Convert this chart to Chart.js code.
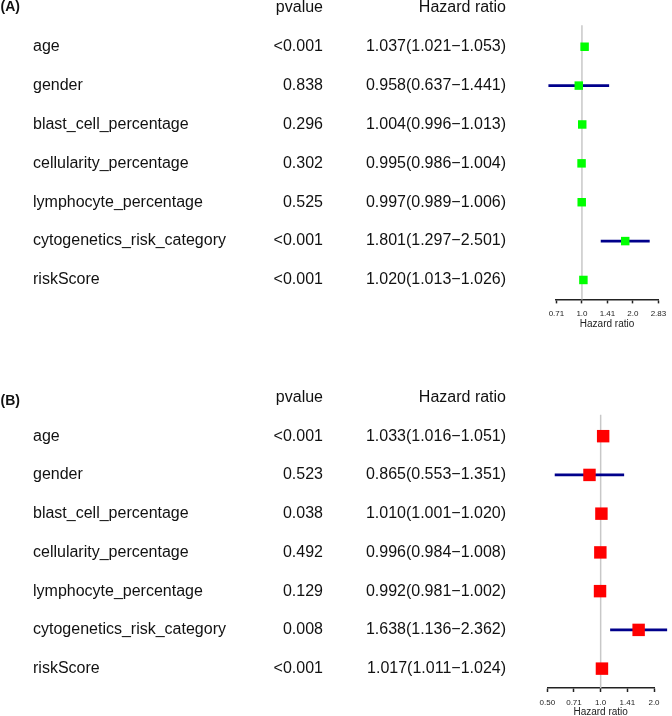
<!DOCTYPE html>
<html>
<head>
<meta charset="utf-8">
<title>Forest plots</title>
<script src="https://cdn.jsdelivr.net/npm/chart.js@4.4.1/dist/chart.umd.min.js"></script>
<style>
  html, body { margin: 0; padding: 0; background: #fff; overflow: hidden; }
  #wrap { position: relative; width: 672px; height: 716px; }
  canvas { position: absolute; left: 0; }
</style>
</head>
<body>
<div id="wrap">
  <canvas id="chartA" width="672" height="358" style="top:0px"></canvas>
  <canvas id="chartB" width="672" height="366" style="top:358px"></canvas>
</div>
<script>
// Variables (same order in both panels)
const variables = [
  'age',
  'gender',
  'blast_cell_percentage',
  'cellularity_percentage',
  'lymphocyte_percentage',
  'cytogenetics_risk_category',
  'riskScore'
];

// Panel A
const pvalueA = ['<0.001', '0.838', '0.296', '0.302', '0.525', '<0.001', '<0.001'];
const hrA   = [1.037, 0.958, 1.004, 0.995, 0.997, 1.801, 1.020];
const lowA  = [1.021, 0.637, 0.996, 0.986, 0.989, 1.297, 1.013];
const highA = [1.053, 1.441, 1.013, 1.004, 1.006, 2.501, 1.026];
const ticksA = [0.7071, 1, 1.4142, 2, 2.8284];
const tickLabelsA = ['0.71', '1.0', '1.41', '2.0', '2.83'];

// Panel B
const pvalueB = ['<0.001', '0.523', '0.038', '0.492', '0.129', '0.008', '<0.001'];
const hrB   = [1.033, 0.865, 1.010, 0.996, 0.992, 1.638, 1.017];
const lowB  = [1.016, 0.553, 1.001, 0.984, 0.981, 1.136, 1.011];
const highB = [1.051, 1.351, 1.020, 1.008, 1.002, 2.362, 1.024];
const ticksB = [0.5, 0.7071, 1, 1.4142, 2];
const tickLabelsB = ['0.50', '0.71', '1.0', '1.41', '2.0'];

const FONT = '"Liberation Sans", Arial, Helvetica, sans-serif';
Chart.defaults.font.family = FONT;

function hrLabel(hr, lo, hi) {
  return `${hr.toFixed(3)}(${lo.toFixed(3)}\u2212${hi.toFixed(3)})`;
}

// Plugin: reference line at HR = 1 plus the text table on the left
function tablePlugin(panel, panelY, pvalues, hrTexts) {
  return {
    id: 'forestTable',
    beforeDatasetsDraw(chart) {
      const { ctx, chartArea, scales } = chart;
      const x1 = scales.x.getPixelForValue(1);
      ctx.save();
      ctx.strokeStyle = '#c8c8c8';
      ctx.lineWidth = 1.5;
      ctx.beginPath();
      ctx.moveTo(x1, chartArea.top - 2);
      ctx.lineTo(x1, chartArea.bottom);
      ctx.stroke();
      ctx.restore();
    },
    afterDraw(chart) {
      const { ctx, scales } = chart;
      const y = scales.y;
      const step = y.getPixelForValue(1) - y.getPixelForValue(0);
      const headerY = y.getPixelForValue(0) - step;

      ctx.save();
      ctx.fillStyle = '#111';
      ctx.textBaseline = 'middle';

      // panel letter
      ctx.font = `bold 14px ${FONT}`;
      ctx.textAlign = 'left';
      ctx.fillText(panel, 0.5, panelY);

      ctx.font = `16px ${FONT}`;
      ctx.textAlign = 'right';
      ctx.fillText('pvalue', 323, headerY);
      ctx.fillText('Hazard ratio', 506, headerY);

      variables.forEach((name, i) => {
        const yy = y.getPixelForValue(i);
        ctx.textAlign = 'left';
        ctx.fillText(name, 33, yy);
        ctx.textAlign = 'right';
        ctx.fillText(pvalues[i], 323, yy);
        ctx.fillText(hrTexts[i], 506, yy);
      });
      ctx.restore();
    }
  };
}

function renderForest(canvasId, cfg) {
  const canvas = document.getElementById(canvasId);
  const hrTexts = cfg.hr.map((v, i) => hrLabel(v, cfg.low[i], cfg.high[i]));

  return new Chart(canvas, {
    type: 'scatter',
    data: {
      datasets: [
        {
          // hazard ratio squares
          type: 'scatter',
          order: 0,
          data: cfg.hr.map((v, i) => ({ x: v, y: variables[i] })),
          pointStyle: 'rect',
          pointRadius: cfg.pointRadius,
          pointBorderWidth: 0,
          backgroundColor: cfg.color,
          borderColor: cfg.color,
          clip: false
        },
        {
          // confidence intervals
          type: 'bar',
          order: 1,
          indexAxis: 'y',
          data: cfg.low.map((lo, i) => [lo, cfg.high[i]]),
          backgroundColor: '#00008B',
          borderWidth: 0,
          borderSkipped: false,
          barThickness: 2,
          grouped: false,
          clip: false
        }
      ]
    },
    options: {
      responsive: false,
      devicePixelRatio: 1,
      animation: false,
      events: [],
      layout: { padding: cfg.padding },
      plugins: {
        legend: { display: false },
        tooltip: { enabled: false },
        title: { display: false }
      },
      scales: {
        x: {
          type: 'logarithmic',
          position: 'bottom',
          min: cfg.ticks[0],
          max: cfg.ticks[cfg.ticks.length - 1],
          offset: false,
          beginAtZero: false,
          afterBuildTicks: scale => {
            scale.ticks = cfg.ticks.map(v => ({ value: v }));
          },
          afterFit: scale => {
            scale.height = cfg.axisHeight;
          },
          ticks: {
            autoSkip: false,
            maxRotation: 0,
            minRotation: 0,
            padding: cfg.tickPadding,
            color: '#222',
            font: { size: 8 },
            callback: (value, index) => cfg.tickLabels[index]
          },
          grid: {
            display: true,
            offset: false,
            drawOnChartArea: false,
            drawTicks: true,
            tickLength: 4,
            tickWidth: 1.5,
            tickColor: '#222'
          },
          border: { display: true, color: '#222', width: 1.5 },
          title: {
            display: true,
            text: 'Hazard ratio',
            color: '#222',
            font: { size: 10, lineHeight: 1.2 },
            padding: { top: 0, bottom: 0 }
          }
        },
        y: {
          type: 'category',
          labels: variables,
          offset: true,
          display: false
        }
      }
    },
    plugins: [tablePlugin(cfg.panel, cfg.panelY, cfg.pvalues, hrTexts)]
  });
}

renderForest('chartA', {
  panel: '(A)', panelY: 7,
  pvalues: pvalueA, hr: hrA, low: lowA, high: highA,
  ticks: ticksA, tickLabels: tickLabelsA,
  color: '#00ff00', pointRadius: 6,
  padding: { left: 555.7, right: 8.7, top: 27.3, bottom: 27.3 },
  axisHeight: 31.3, tickPadding: 5.8
});

renderForest('chartB', {
  panel: '(B)', panelY: 43,
  pvalues: pvalueB, hr: hrB, low: lowB, high: highB,
  ticks: ticksB, tickLabels: tickLabelsB,
  color: '#ff0000', pointRadius: 8.8,
  padding: { left: 547.3, right: 18, top: 58.8, bottom: 5.7 },
  axisHeight: 30.3, tickPadding: 5.5
});
</script>
</body>
</html>
